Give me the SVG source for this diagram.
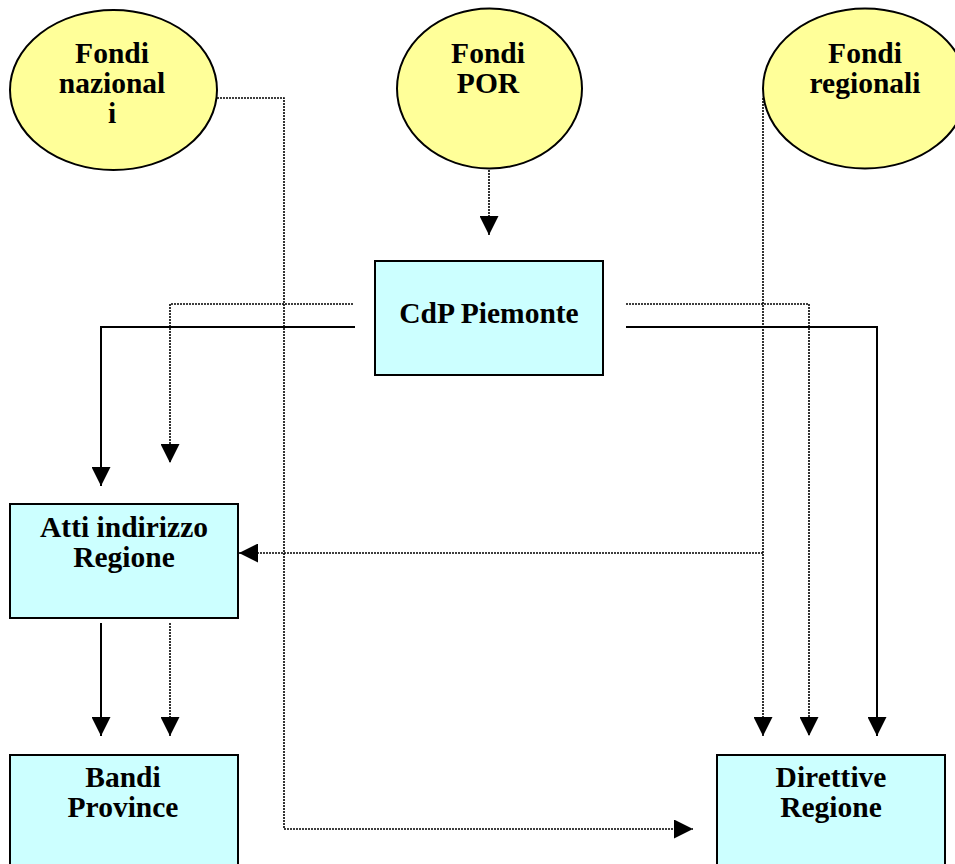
<svg xmlns="http://www.w3.org/2000/svg" width="955" height="864" viewBox="0 0 955 864">
<style>
.ell{fill:#FFFF99;stroke:#000;stroke-width:2}
.box{fill:#CCFFFF;stroke:#000;stroke-width:2}
.t{font-family:"Liberation Serif","Times New Roman",serif;font-weight:bold;font-size:29.5px;text-anchor:middle;fill:#000}
.solid{fill:none;stroke:#000;stroke-width:2}
.dot{fill:none;stroke:#000;stroke-width:1.6;stroke-dasharray:2 1}
</style>
<defs>
<marker id="ah" viewBox="0 0 19 19" refX="19" refY="9.5" markerWidth="19" markerHeight="19" markerUnits="userSpaceOnUse" orient="auto">
<path d="M0,0 L19,9.5 L0,19 z" fill="#000"/>
</marker>
</defs>
<rect width="955" height="864" fill="#fff"/>
<g id="connectors">
<path class="dot" d="M489,170 V235" marker-end="url(#ah)"/>
<path class="solid" d="M355,327 H101 V486" marker-end="url(#ah)"/>
<path class="dot" d="M353,304 H170 V463" marker-end="url(#ah)"/>
<path class="dot" d="M217,98 H284 V829 H693" marker-end="url(#ah)"/>
<path class="dot" d="M626,304 H809 V736" marker-end="url(#ah)"/>
<path class="solid" d="M626,327 H877 V736" marker-end="url(#ah)"/>
<path class="dot" d="M763,98 V736" marker-end="url(#ah)"/>
<path class="dot" d="M763,553 H239" marker-end="url(#ah)"/>
<path class="solid" d="M101,623 V736" marker-end="url(#ah)"/>
<path class="dot" d="M170,623 V736" marker-end="url(#ah)"/>
</g>
<g id="fondi-nazionali">
<ellipse class="ell" cx="113.5" cy="90" rx="103.5" ry="80"/>
<text class="t" x="112" y="63">Fondi</text>
<text class="t" x="112" y="93">nazional</text>
<text class="t" x="112" y="123">i</text>
</g>
<g id="fondi-por">
<ellipse class="ell" cx="489.5" cy="88.5" rx="92.5" ry="80"/>
<text class="t" x="488" y="63">Fondi</text>
<text class="t" x="488" y="93">POR</text>
</g>
<g id="fondi-regionali">
<ellipse class="ell" cx="865" cy="88.5" rx="102" ry="80"/>
<text class="t" x="865" y="63">Fondi</text>
<text class="t" x="865" y="93">regionali</text>
</g>
<g id="cdp-piemonte">
<rect class="box" x="375" y="261" width="228" height="114"/>
<text class="t" x="489" y="323">CdP Piemonte</text>
</g>
<g id="atti-indirizzo">
<rect class="box" x="10" y="504" width="228" height="114"/>
<text class="t" x="124" y="537">Atti indirizzo</text>
<text class="t" x="124" y="567">Regione</text>
</g>
<g id="bandi-province">
<rect class="box" x="10" y="755" width="228" height="120"/>
<text class="t" x="123" y="787">Bandi</text>
<text class="t" x="123" y="817">Province</text>
</g>
<g id="direttive-regione">
<rect class="box" x="717" y="755" width="228" height="120"/>
<text class="t" x="831" y="787">Direttive</text>
<text class="t" x="831" y="817">Regione</text>
</g>
</svg>
